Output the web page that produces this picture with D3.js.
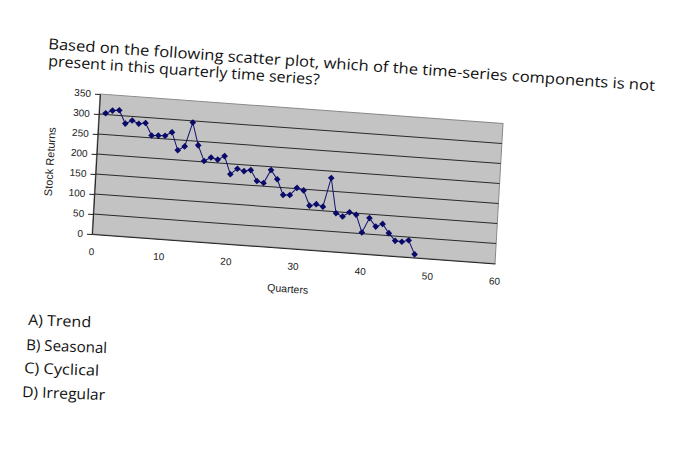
<!DOCTYPE html>
<html><head><meta charset="utf-8">
<script src="https://cdn.jsdelivr.net/npm/d3@7"></script>
<style>
html,body{margin:0;padding:0;background:#fff;}
svg{display:block;}
</style></head>
<body><svg id="c" width="676" height="466"></svg>
<script>
const questionLines = [
  "Based on the following scatter plot, which of the time-series components is not",
  "present in this quarterly time series?"
];
const answers = ["A) Trend", "B) Seasonal", "C) Cyclical", "D) Irregular"];
const quarters = [1,2,3,4,5,6,7,8,9,10,11,12,13,14,15,16,17,18,19,20,21,22,23,24,
  25,26,27,28,29,30,31,32,33,34,35,36,37,38,39,40,41,42,43,44,45,46,47,48];
const stockReturns = [303,311,313,281,290,283,286,256,257,258,268,224,235,296,240,202,
  212,208,218,174,189,184,188,162,158,192,170,132,133,152,147,110,115,110,183,96,
  89,101,96,53,90,70,78,56,38,37,42,8];
const yTicks = [0,50,100,150,200,250,300,350];
const xTicks = [0,10,20,30,40,50,60];
const yTitle = "Stock Returns";
const xTitle = "Quarters";

const svg = d3.select("#c");
const W = 403, H = 140;

// question text (photographed page, slightly rotated)
const q = svg.append("g").attr("font-family", "'Open Sans', 'DejaVu Sans', sans-serif")
  .attr("font-size", 15).attr("fill", "#111");
const qPos = [[48, 49, 608], [48, 66, 272]];
questionLines.forEach((t, i) => {
  q.append("text")
    .attr("transform", `translate(${qPos[i][0]},${qPos[i][1]}) rotate(3.95)`)
    .attr("textLength", qPos[i][2]).attr("lengthAdjust", "spacingAndGlyphs")
    .text(t);
});

// answers
const aPos = [[28, 325, 63], [26, 350, 81], [24, 373, 75], [22, 397, 83]];
const a = svg.append("g").attr("font-family", "'Open Sans', 'DejaVu Sans', sans-serif")
  .attr("font-size", 15).attr("fill", "#111");
answers.forEach((t, i) => {
  a.append("text")
    .attr("transform", `translate(${aPos[i][0]},${aPos[i][1]}) rotate(2.2)`)
    .attr("textLength", aPos[i][2]).attr("lengthAdjust", "spacingAndGlyphs")
    .text(t);
});

// chart in skewed frame
const g = svg.append("g").attr("transform", "matrix(1,0.073,-0.057,1,100,94)")
  .attr("font-family", "'Liberation Sans', Arial, sans-serif");

const x = d3.scaleLinear().domain([0, 60]).range([0, W]);
const y = d3.scaleLinear().domain([0, 350]).range([H, 0]);

g.append("rect").attr("x", 0).attr("y", 0).attr("width", W).attr("height", H)
  .attr("fill", "#c3c3c3").attr("stroke", "#8a8a8a").attr("stroke-width", 1);

g.append("g").selectAll("line").data(yTicks.filter(d => d > 0 && d < 350)).join("line")
  .attr("x1", 0).attr("x2", W).attr("y1", d => y(d)).attr("y2", d => y(d))
  .attr("stroke", "#2a2a2a").attr("stroke-width", 1);

const ya = g.append("g").call(d3.axisLeft(y).tickValues(yTicks).tickSize(5).tickPadding(4).tickSizeOuter(0));
ya.select(".domain").attr("stroke", "#222");
ya.selectAll("line").attr("stroke", "#222");
ya.selectAll("text").attr("font-size", 10).attr("fill", "#222");

const xa = g.append("g").attr("transform", `translate(0,${H})`)
  .call(d3.axisBottom(x).tickValues(xTicks).tickSize(0).tickPadding(14).tickSizeOuter(0));
xa.select(".domain").attr("stroke", "#222");
xa.selectAll("text").attr("font-size", 10).attr("fill", "#222");

g.append("text").attr("transform", `translate(-46,71) rotate(-90)`)
  .attr("text-anchor", "middle").attr("dy", "0.35em").attr("font-size", 11).attr("fill", "#222")
  .text(yTitle);
g.append("text").attr("x", 198).attr("y", 184).attr("text-anchor", "middle")
  .attr("font-size", 10.5).attr("fill", "#222").text(xTitle);

const pts = quarters.map((q, i) => [q, stockReturns[i]]);
g.append("path").datum(pts)
  .attr("d", d3.line().x(d => x(d[0])).y(d => y(d[1])))
  .attr("fill", "none").attr("stroke", "#101070").attr("stroke-width", 1);

const sym = d3.symbol().type(d3.symbolSquare).size(22);
g.append("g").selectAll("path").data(pts).join("path")
  .attr("transform", d => `translate(${x(d[0])},${y(d[1])}) rotate(45)`)
  .attr("d", sym).attr("fill", "#0a0a6a");
</script></body></html>
